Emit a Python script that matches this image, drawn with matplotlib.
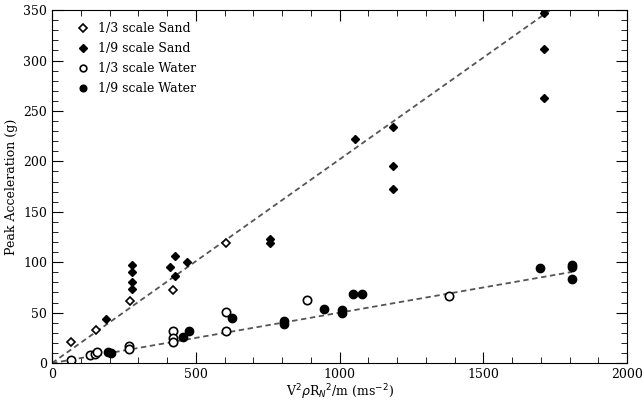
import matplotlib.pyplot as plt
from matplotlib.ticker import MultipleLocator

# 1/3 scale sand (open diamonds)
sand3_x = [65, 152, 270, 421, 605]
sand3_y = [20.5, 33, 62, 72, 119]

# 1/9 scale sand (filled diamonds)
sand9_x = [188, 277, 277, 277, 277, 411, 427, 427, 468, 758, 758,
           1053, 1187, 1187, 1187, 1711, 1711, 1711]
sand9_y = [44, 97, 90, 80, 73, 95.5, 106, 86, 100, 123, 119,
           222, 234, 195, 173, 347, 311, 263]

# 1/3 scale water (open circles)
water3_x = [65, 132, 150, 158, 269, 269, 421, 421, 421, 604, 604, 886, 1382]
water3_y = [3, 8, 9, 11, 16.5, 13.5, 32, 25, 21, 51, 32, 63, 67]

# 1/9 scale water (filled circles)
water9_x = [195, 205, 457, 477, 627, 805, 805, 947, 1009, 1009,
            1046, 1077, 1697, 1808, 1808, 1808]
water9_y = [11, 10, 25.5, 32, 45, 42, 39, 54, 52.5, 50,
            69, 69, 94, 97.5, 95, 83.5]

# fitted lines (through the origin)
sand_slope = 0.202
water_slope = 0.05

plt.rcParams['font.family'] = ['DejaVu Serif']

fig = plt.figure(figsize=(6.42, 4.03), dpi=100)
ax = fig.add_axes([0.081, 0.099, 0.896, 0.876])

ax.plot([0, 1733], [0, sand_slope * 1733], ls=(0, (3, 2)), color='#555555', lw=1.3)
ax.plot([0, 1808], [0, water_slope * 1808], ls=(0, (3, 2)), color='#555555', lw=1.3)

ax.plot(sand3_x, sand3_y, 'D', mfc='white', mec='black', mew=1.2, ms=4.5, ls='none',
        label='1/3 scale Sand')
ax.plot(sand9_x, sand9_y, 'D', color='black', ms=4.5, ls='none', label='1/9 scale Sand')
ax.plot(water3_x, water3_y, 'o', mfc='white', mec='black', mew=1.2, ms=6, ls='none',
        label='1/3 scale Water')
ax.plot(water9_x, water9_y, 'o', color='black', ms=6, ls='none', label='1/9 scale Water')

ax.set_xlim(0, 2000)
ax.set_ylim(0, 350)
ax.xaxis.set_major_locator(MultipleLocator(500))
ax.xaxis.set_minor_locator(MultipleLocator(100))
ax.yaxis.set_major_locator(MultipleLocator(50))
ax.yaxis.set_minor_locator(MultipleLocator(10))
ax.tick_params(which='both', direction='in', top=True, right=True, labelsize=9)
ax.tick_params(which='major', length=8)
ax.tick_params(which='minor', length=4)

ax.set_xlabel(r'V$^2\rho$R$_N$$^2$/m (ms$^{-2}$)', fontsize=9, labelpad=1)
ax.set_ylabel('Peak Acceleration (g)', fontsize=9, labelpad=4)

ax.legend(loc='upper left', bbox_to_anchor=(0.025, 0.99), frameon=False, fontsize=9,
          handletextpad=0.6, borderaxespad=0.3, labelspacing=0.55, handlelength=1.2,
          markerscale=0.8)

fig.savefig('out.png', dpi=100)
